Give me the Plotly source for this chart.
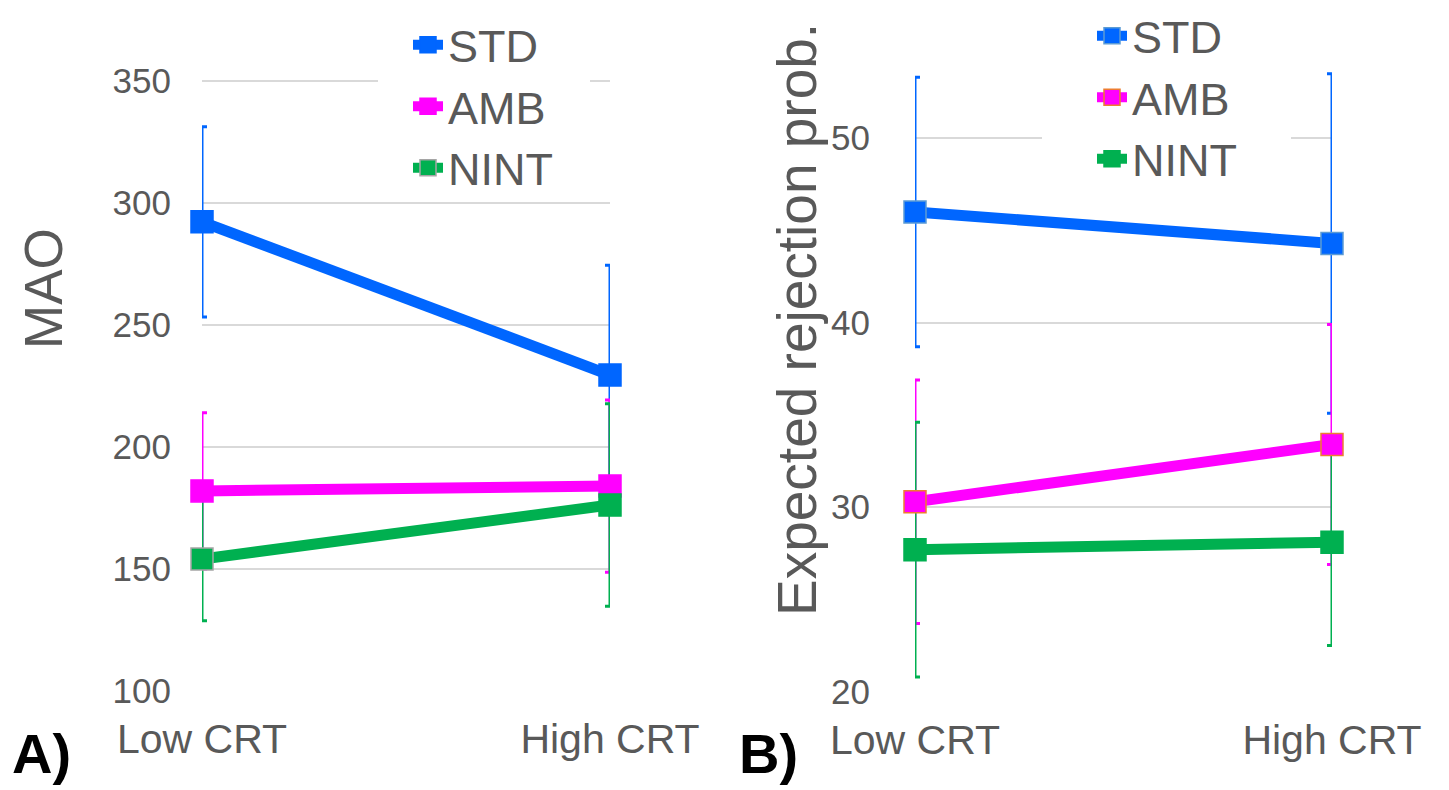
import plotly.graph_objects as go

categories = ["Low CRT", "High CRT"]
series_names = ["STD", "AMB", "NINT"]

# Panel A: MAO
mao_std = [292.3, 229.5]
mao_std_err = [39.0, 45.0]
mao_amb = [182.0, 184.0]
mao_amb_err = [32.0, 35.3]
mao_nint = [154.1, 176.2]
mao_nint_err = [25.3, 41.5]
mao_ticks = [100, 150, 200, 250, 300, 350]

# Panel B: Expected rejection prob.
rej_std = [46.0, 44.3]
rej_std_err = [7.3, 9.2]
rej_amb = [30.3, 33.4]
rej_amb_err = [6.6, 6.5]
rej_nint = [27.7, 28.1]
rej_nint_err = [6.9, 5.6]
rej_ticks = [20, 30, 40, 50]

colors = {"STD": "#0066FF", "AMB": "#FF00FF", "NINT": "#00B050"}
border_a = {"STD": ["#0066FF", "#0066FF"], "AMB": ["#FF00FF", "#FF00FF"], "NINT": ["#A5A5A5", "#00B050"]}
border_b = {"STD": ["#5B9BD5", "#5B9BD5"], "AMB": ["#ED7D31", "#ED7D31"], "NINT": ["#00B050", "#00B050"]}

W, H = 1449, 790
OFF = 8  # page body margin
FONT = "Liberation Sans, Arial, sans-serif"
GRAY = "#595959"


def px(v):
    return (v - OFF) / W


def py(v):
    return (H - (v - OFF)) / H


fig = go.Figure()

panels = [
    ("x", "y", "legend", {"STD": (mao_std, mao_std_err), "AMB": (mao_amb, mao_amb_err), "NINT": (mao_nint, mao_nint_err)}, border_a),
    ("x2", "y2", "legend2", {"STD": (rej_std, rej_std_err), "AMB": (rej_amb, rej_amb_err), "NINT": (rej_nint, rej_nint_err)}, border_b),
]

for xa, ya, lg, data, borders in panels:
    # error bars first (drawn beneath all lines/markers), clipped to plot area
    for name in series_names:
        vals, errs = data[name]
        fig.add_trace(go.Scatter(
            x=categories, y=vals, xaxis=xa, yaxis=ya, mode="markers",
            marker=dict(size=1, color="rgba(0,0,0,0)"),
            error_y=dict(type="data", array=errs, color=colors[name], thickness=3, width=5),
            showlegend=False, hoverinfo="skip", cliponaxis=True,
        ))
    for name in series_names:
        vals, errs = data[name]
        fig.add_trace(go.Scatter(
            x=categories, y=vals, xaxis=xa, yaxis=ya, mode="lines+markers", name=name,
            line=dict(color=colors[name], width=11),
            marker=dict(symbol="square", size=22, color=colors[name],
                        line=dict(color=borders[name], width=1.5)),
            legend=lg, cliponaxis=False,
        ))

# pixel geometry of the two plot areas (reference picture coordinates)
A_range = [100, 351]
B_range = [20, 55]
A_left, A_right, A_bottom = 202, 610, 691
A_top = 81 - (691 - 81) / 250 * (A_range[1] - 350)
B_left, B_right, B_bottom, B_top = 915, 1332, 691.7, 46

xA = [px(A_left), px(A_right)]
xB = [px(B_left), px(B_right)]
yA = [py(A_bottom), py(A_top)]
yB = [py(B_bottom), py(B_top)]


def dx(p, left, right):
    # pixel -> category-axis coordinate (range [0, 1])
    return (p - left) / (right - left)


def dy(p, bottom, top, rng):
    return rng[0] + (bottom - p) / (bottom - top) * (rng[1] - rng[0])


common_x = dict(type="category", range=[0, 1], showgrid=False, zeroline=False, showline=False,
                automargin=False, ticks="", tickfont=dict(size=41, color=GRAY, family=FONT),
                ticklabelstandoff=20)
common_y = dict(showgrid=True, gridcolor="#D9D9D9", gridwidth=1.5, zeroline=False, showline=False,
                automargin=False, ticks="", tickfont=dict(size=35, color=GRAY, family=FONT))

# white legend backgrounds that interrupt the top gridlines
shapes = [
    dict(type="rect", xref="x", yref="y", layer="above",
         x0=dx(378, A_left, A_right), x1=dx(590, A_left, A_right),
         y0=dy(92, A_bottom, A_top, A_range), y1=dy(72, A_bottom, A_top, A_range),
         fillcolor="white", line=dict(width=0)),
    dict(type="rect", xref="x2", yref="y2", layer="above",
         x0=dx(1042, B_left, B_right), x1=dx(1291, B_left, B_right),
         y0=dy(148, B_bottom, B_top, B_range), y1=dy(128, B_bottom, B_top, B_range),
         fillcolor="white", line=dict(width=0)),
]

fig.update_layout(
    width=W, height=H, margin=dict(l=0, r=0, t=0, b=0, autoexpand=False),
    paper_bgcolor="white", plot_bgcolor="white",
    font=dict(family=FONT, color=GRAY),
    xaxis=dict(domain=xA, anchor="y", **common_x),
    yaxis=dict(domain=yA, anchor="x", range=A_range, tickvals=mao_ticks, ticklabelstandoff=30, **common_y),
    xaxis2=dict(domain=xB, anchor="y2", **common_x),
    yaxis2=dict(domain=yB, anchor="x2", range=B_range, tickvals=rej_ticks, ticklabelstandoff=44, **common_y),
    legend=dict(x=px(408), y=py(9), xanchor="left", yanchor="top", bgcolor="rgba(0,0,0,0)",
                font=dict(size=45, color=GRAY, family=FONT), tracegroupgap=0),
    legend2=dict(x=px(1092), y=py(0), xanchor="left", yanchor="top", bgcolor="rgba(0,0,0,0)",
                 font=dict(size=45, color=GRAY, family=FONT), tracegroupgap=0),
    showlegend=True,
    shapes=shapes,
    annotations=[
        dict(text="MAO", x=px(43), y=py(289), xref="paper", yref="paper", textangle=-90,
             xanchor="center", yanchor="middle",
             showarrow=False, font=dict(size=53, color=GRAY, family=FONT)),
        dict(text="Expected rejection prob.", x=px(797), y=py(320), xref="paper", yref="paper",
             textangle=-90, xanchor="center", yanchor="middle",
             showarrow=False, font=dict(size=55, color=GRAY, family=FONT)),
        dict(text="<b>A)</b>", x=px(41), y=py(753), xref="paper", yref="paper",
             xanchor="center", yanchor="middle",
             showarrow=False, font=dict(size=56, color="black", family=FONT)),
        dict(text="<b>B)</b>", x=px(768), y=py(753), xref="paper", yref="paper",
             xanchor="center", yanchor="middle",
             showarrow=False, font=dict(size=56, color="black", family=FONT)),
    ],
)

fig.write_html("out.html")
